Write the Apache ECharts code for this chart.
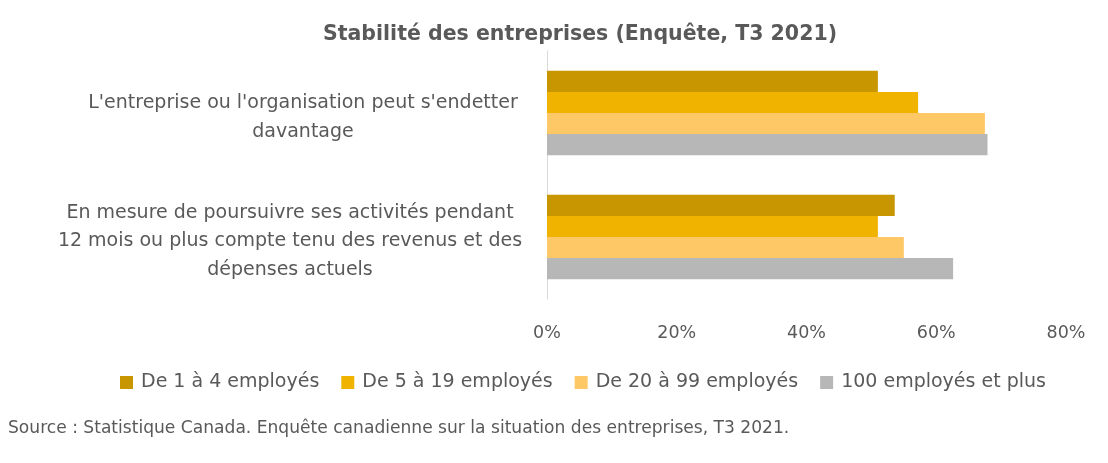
<!DOCTYPE html>
<html>
<head>
<meta charset="utf-8">
<script src="https://cdn.jsdelivr.net/npm/echarts@6/dist/echarts.min.js"></script>
<style>
  html, body { margin: 0; padding: 0; background: #fff; }
  #chart { width: 1108px; height: 463px; }
</style>
</head>
<body>
<div id="chart"></div>
<script>
  const categories = [
    "L'entreprise ou l'organisation peut s'endetter\ndavantage",
    'En mesure de poursuivre ses activités pendant\n12 mois ou plus compte tenu des revenus et des\ndépenses actuels',
  ];
  const seriesNames = ['De 1 à 4 employés', 'De 5 à 19 employés', 'De 20 à 99 employés', '100 employés et plus'];
  const small = [51.0, 53.6];
  const medium = [57.2, 51.0];
  const large = [67.5, 55.0];
  const biggest = [67.9, 62.6];
  const colors = ['#c89600', '#f0b400', '#ffc866', '#b7b7b7'];
  const xTicks = [0, 20, 40, 60, 80];

  const font = '"DejaVu Sans", "Open Sans", sans-serif';
  const grey = '#595959';
  const values = [small, medium, large, biggest];

  // Excel wraps each label in its own box, so the second one sits a bit further left
  const labelStyle = (extraRight) => ({
    fontFamily: font, fontSize: 19, lineHeight: 28.5, color: grey,
    padding: [0, extraRight, 0, 0],
  });

  const chart = echarts.init(document.getElementById('chart'), null, {renderer: 'canvas'});
  chart.setOption({
    animation: false,
    title: {
      text: 'Stabilité des entreprises (Enquête, T3 2021)',
      left: 575,
      textAlign: 'center',
      top: 19,
      textStyle: {fontFamily: font, fontSize: 20.5, fontWeight: 'bold', color: grey},
    },
    legend: {
      left: 115,
      top: 368,
      itemWidth: 13,
      itemHeight: 13,
      itemGap: 22,
      icon: 'rect',
      textStyle: {fontFamily: font, fontSize: 19, color: grey, padding: [0, 0, 0, 3]},
      data: seriesNames,
    },
    graphic: [{
      type: 'text',
      left: 8,
      top: 420,
      style: {
        text: 'Source : Statistique Canada. Enquête canadienne sur la situation des entreprises, T3 2021.',
        font: `17.1px ${font}`,
        fill: grey,
      },
    }],
    grid: {left: 547, right: 42, top: 51, bottom: 164},
    xAxis: {
      type: 'value',
      min: xTicks[0],
      max: xTicks[xTicks.length - 1],
      interval: 20,
      axisLine: {show: false},
      axisTick: {show: false},
      splitLine: {show: false},
      axisLabel: {
        formatter: (v) => `${v}%`,
        fontFamily: font,
        fontSize: 17.5,
        color: grey,
        margin: 25,
      },
    },
    yAxis: {
      type: 'category',
      inverse: true,
      data: categories,
      axisLine: {show: true, lineStyle: {color: '#d9d9d9', width: 1}},
      axisTick: {show: false},
      axisLabel: {
        align: 'center',
        margin: 244,
        padding: [9, 0, 0, 0],
        formatter: (value, index) => value.split('\n')
          .map((line) => `{${index === 0 ? 'a' : 'b'}|${line}}`).join('\n'),
        rich: {
          a: labelStyle(0),
          b: labelStyle(26),
        },
      },
    },
    series: seriesNames.map((name, i) => ({
      name,
      type: 'bar',
      data: values[i],
      barCategoryGap: '32%',
      barGap: '0%',
      itemStyle: {color: colors[i]},
    })),
  });
</script>
</body>
</html>
